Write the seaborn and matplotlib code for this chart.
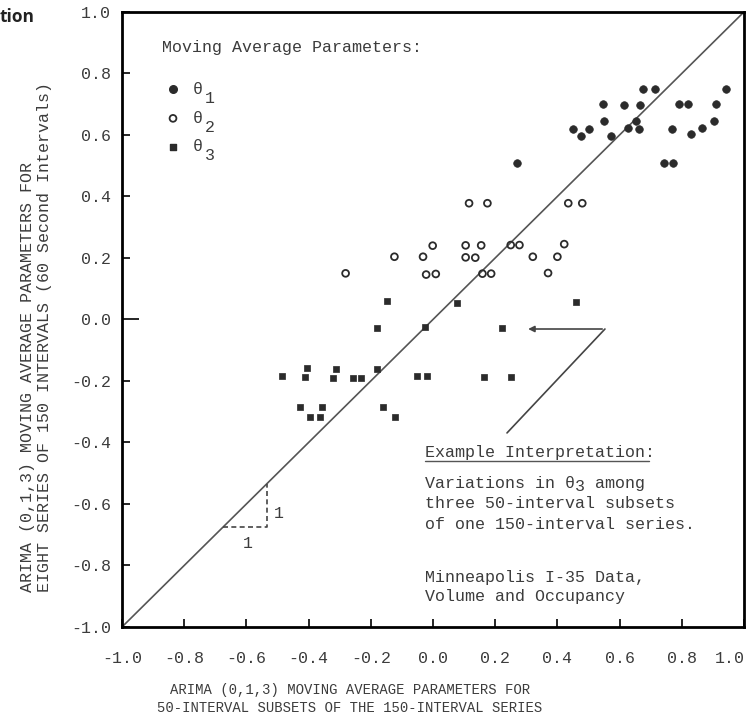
import matplotlib
matplotlib.use("Agg")
import matplotlib.pyplot as plt
import matplotlib.transforms as mtransforms
import seaborn as sns

# x: 50-interval subsets, y: full 150-interval series
theta1_x = [0.676, 0.714, 0.941, 0.546, 0.615, 0.666, 0.791, 0.821, 0.909,
            0.550, 0.653, 0.904, 0.451, 0.503, 0.628, 0.663, 0.768, 0.864,
            0.475, 0.572, 0.829, 0.743, 0.773, 0.270]
theta1_y = [0.750, 0.750, 0.750, 0.700, 0.698, 0.698, 0.700, 0.700, 0.701,
            0.647, 0.646, 0.646, 0.620, 0.620, 0.622, 0.620, 0.620, 0.624,
            0.597, 0.597, 0.603, 0.510, 0.510, 0.510]

theta2_x = [0.116, 0.175, 0.435, 0.480, -0.001, 0.105, 0.155, 0.250, 0.278,
            0.422, -0.124, -0.032, 0.105, 0.136, 0.321, 0.400, -0.281, -0.022,
            0.009, 0.159, 0.187, 0.370]
theta2_y = [0.378, 0.378, 0.378, 0.378, 0.240, 0.241, 0.241, 0.242, 0.242,
            0.245, 0.204, 0.204, 0.202, 0.201, 0.204, 0.204, 0.150, 0.146,
            0.148, 0.149, 0.149, 0.151]

theta3_x = [-0.147, 0.076, 0.459, -0.181, -0.026, 0.222, -0.404, -0.313, -0.181,
            -0.486, -0.412, -0.323, -0.258, -0.232, -0.052, -0.020, 0.165, 0.251,
            -0.428, -0.357, -0.160, -0.395, -0.362, -0.121]
theta3_y = [0.059, 0.055, 0.058, -0.027, -0.024, -0.027, -0.159, -0.162, -0.162,
            -0.185, -0.188, -0.189, -0.189, -0.189, -0.185, -0.185, -0.187, -0.187,
            -0.285, -0.285, -0.285, -0.318, -0.318, -0.318]

ticks = [-1.0, -0.8, -0.6, -0.4, -0.2, 0.0, 0.2, 0.4, 0.6, 0.8, 1.0]
tick_labels = ['-1.0', '-0.8', '-0.6', '-0.4', '-0.2', '0.0', '0.2', '0.4', '0.6', '0.8', '1.0']

ink = '#2b2b2b'
txt = '#3c3c3c'

sns.set_style('white')
plt.rcParams['font.family'] = ['Liberation Mono', 'DejaVu Sans Mono']

fig = plt.figure(figsize=(7.54, 7.25), dpi=100)
ax = fig.add_axes([0.1618, 0.1352, 0.8249, 0.8483])

# 45 degree reference line
ax.plot([-1, 1], [-1, 1], color='#555555', lw=1.2, zorder=1)

sns.scatterplot(x=theta1_x, y=theta1_y, ax=ax, marker='o', s=30,
                color=ink, edgecolor=ink, linewidth=0.5, zorder=3)
sns.scatterplot(x=theta2_x, y=theta2_y, ax=ax, marker='o', s=24,
                facecolor='none', edgecolor=ink, linewidth=1.3, zorder=3)
sns.scatterplot(x=theta3_x, y=theta3_y, ax=ax, marker='s', s=18,
                color=ink, edgecolor=ink, linewidth=0.5, zorder=3)

ax.set_xlim(-1, 1)
ax.set_ylim(-1, 1)
ax.set_xticks(ticks)
ax.set_xticklabels(tick_labels)
ax.set_yticks(ticks)
ax.set_yticklabels(tick_labels)
ax.tick_params(bottom=True, left=True, direction='in', length=6, width=1.2,
               colors='black', labelcolor=txt, labelsize=12)
ax.tick_params(axis='x', pad=17)
ax.tick_params(axis='y', pad=8)
for sp in ax.spines.values():
    sp.set_visible(True)
    sp.set_color('black')
    sp.set_linewidth(2)
ax.set_xlabel('')
ax.set_ylabel('')

# zero tick on the y axis is drawn longer
ax.yaxis.get_major_ticks()[5].tick1line.set_markersize(12)

# the last x label sits a bit left of its tick in the original
last = ax.get_xticklabels()[-1]
last.set_transform(last.get_transform() +
                   mtransforms.ScaledTranslation(-10 / 72, 0, fig.dpi_scale_trans))

# legend drawn by hand (typewriter style)
ax.text(0.065, 0.943, 'Moving Average Parameters:', transform=ax.transAxes,
        fontsize=12, color=txt, va='center')
ax.scatter([0.082], [0.874], transform=ax.transAxes, s=30, color=ink, clip_on=False)
ax.scatter([0.082], [0.827], transform=ax.transAxes, s=24, facecolor='none',
           edgecolor=ink, linewidth=1.3, clip_on=False)
ax.scatter([0.082], [0.781], transform=ax.transAxes, s=18, marker='s', color=ink, clip_on=False)
for i, yy in enumerate([0.874, 0.827, 0.781]):
    ax.text(0.114, yy, '\u03b8', transform=ax.transAxes, fontsize=12, color=txt, va='center')
    ax.text(0.133, yy - 0.015, str(i + 1), transform=ax.transAxes, fontsize=12,
            color=txt, va='center')

# slope triangle
ax.plot([-0.675, -0.535, -0.535], [-0.675, -0.675, -0.535], color='#444444',
        lw=1.2, ls=(0, (3, 2)))
ax.text(-0.594, -0.728, '1', fontsize=12, color=txt, ha='center', va='center')
ax.text(-0.497, -0.630, '1', fontsize=12, color=txt, ha='center', va='center')

# example interpretation pointer
ax.annotate('', xy=(0.297, -0.031), xytext=(0.553, -0.031),
            arrowprops=dict(arrowstyle='-|>', color='#444444', lw=1.2, mutation_scale=9))
ax.plot([0.553, 0.238], [-0.031, -0.369], color='#444444', lw=1.2)

ax.text(0.487, 0.283, 'Example Interpretation:', transform=ax.transAxes,
        fontsize=12, color=txt, va='center')
ax.plot([0.487, 0.847], [0.270, 0.270], transform=ax.transAxes, color='#555555', lw=1.0)
ax.text(0.487, 0.234, 'Variations in \u03b8  among', transform=ax.transAxes,
        fontsize=12, color=txt, va='center')
ax.text(0.728, 0.229, '3', transform=ax.transAxes, fontsize=12, color=txt, va='center')
ax.text(0.487, 0.200, 'three 50-interval subsets', transform=ax.transAxes,
        fontsize=12, color=txt, va='center')
ax.text(0.487, 0.167, 'of one 150-interval series.', transform=ax.transAxes,
        fontsize=12, color=txt, va='center')
ax.text(0.487, 0.081, 'Minneapolis I-35 Data,', transform=ax.transAxes,
        fontsize=12, color=txt, va='center')
ax.text(0.487, 0.050, 'Volume and Occupancy', transform=ax.transAxes,
        fontsize=12, color=txt, va='center')

# axis titles
fig.text(0.464, 0.036, 'ARIMA (0,1,3) MOVING AVERAGE PARAMETERS FOR\n'
         '50-INTERVAL SUBSETS OF THE 150-INTERVAL SERIES',
         fontsize=10, color=txt, ha='center', va='center', linespacing=1.35)
fig.text(0.048, 1 - 592 / 725, 'ARIMA (0,1,3) MOVING AVERAGE PARAMETERS FOR\n'
         'EIGHT SERIES OF 150 INTERVALS (60 Second Intervals)',
         fontsize=12, color=txt, rotation=90, ha='center', va='bottom',
         multialignment='left', linespacing=1.2)

# cropped caption fragment
fig.text(0.0, 0.977, 'tion', fontsize=12.5, fontweight='bold', family='Open Sans',
         color='#222222', ha='left', va='center')

fig.savefig('out.png', dpi=100)
